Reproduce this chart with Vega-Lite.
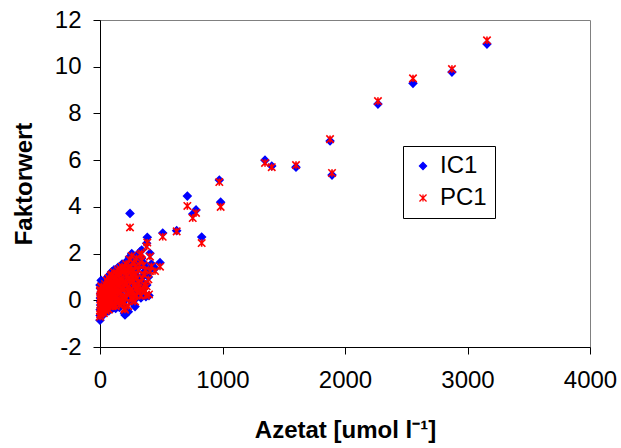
{
  "$schema": "https://vega.github.io/schema/vega-lite/v6.json",
  "width": 490,
  "height": 327,
  "autosize": {"type": "none"},
  "padding": {"left": 100, "top": 20, "right": 31, "bottom": 101},
  "background": "white",
  "config": {
    "font": "Liberation Sans",
    "view": {"stroke": "#808080", "strokeWidth": 1},
    "axis": {
      "grid": false,
      "domainColor": "black",
      "domainWidth": 1,
      "tickColor": "black",
      "tickSize": 7,
      "tickWidth": 1,
      "labelFontSize": 24,
      "labelColor": "black",
      "labelFont": "Liberation Sans",
      "titleFontSize": 24,
      "titleFontWeight": "bold",
      "titleColor": "black",
      "titleFont": "Liberation Sans"
    }
  },
  "data": {
    "values": [
      {"x": 0, "IC1": -0.85, "PC1": -0.70},
      {"x": 0, "IC1": 0.65, "PC1": 0.40},
      {"x": 1, "IC1": -0.65, "PC1": -0.60},
      {"x": 2, "IC1": -0.40, "PC1": -0.45},
      {"x": 3, "IC1": 0.10, "PC1": 0.05},
      {"x": 4, "IC1": 0.50, "PC1": 0.45},
      {"x": 5, "IC1": -0.20, "PC1": -0.25},
      {"x": 5, "IC1": 0.30, "PC1": 0.25},
      {"x": 6, "IC1": -0.05, "PC1": -0.10},
      {"x": 8, "IC1": -0.60, "PC1": -0.55},
      {"x": 9, "IC1": 0.20, "PC1": 0.15},
      {"x": 10, "IC1": 0.85, "PC1": 0.60},
      {"x": 11, "IC1": -0.30, "PC1": -0.35},
      {"x": 12, "IC1": 0.00, "PC1": -0.05},
      {"x": 14, "IC1": 0.70, "PC1": 0.55},
      {"x": 15, "IC1": -0.35, "PC1": -0.30},
      {"x": 16, "IC1": 0.10, "PC1": 0.05},
      {"x": 18, "IC1": 0.45, "PC1": 0.35},
      {"x": 19, "IC1": -0.50, "PC1": -0.50},
      {"x": 20, "IC1": -0.10, "PC1": -0.15},
      {"x": 22, "IC1": 0.20, "PC1": 0.15},
      {"x": 23, "IC1": 0.35, "PC1": 0.30},
      {"x": 25, "IC1": -0.50, "PC1": -0.45},
      {"x": 26, "IC1": 0.00, "PC1": -0.05},
      {"x": 28, "IC1": 0.60, "PC1": 0.50},
      {"x": 30, "IC1": 0.05, "PC1": 0.00},
      {"x": 31, "IC1": -0.60, "PC1": -0.55},
      {"x": 33, "IC1": -0.25, "PC1": -0.20},
      {"x": 34, "IC1": 0.55, "PC1": 0.45},
      {"x": 36, "IC1": 0.35, "PC1": 0.30},
      {"x": 38, "IC1": -0.10, "PC1": -0.10},
      {"x": 40, "IC1": 0.80, "PC1": 0.70},
      {"x": 42, "IC1": -0.40, "PC1": -0.35},
      {"x": 44, "IC1": 0.30, "PC1": 0.25},
      {"x": 45, "IC1": 0.15, "PC1": 0.10},
      {"x": 47, "IC1": -0.50, "PC1": -0.45},
      {"x": 48, "IC1": 0.50, "PC1": 0.45},
      {"x": 50, "IC1": -0.15, "PC1": -0.10},
      {"x": 52, "IC1": 0.60, "PC1": 0.50},
      {"x": 55, "IC1": 0.95, "PC1": 0.85},
      {"x": 57, "IC1": -0.40, "PC1": -0.35},
      {"x": 58, "IC1": 0.25, "PC1": 0.20},
      {"x": 60, "IC1": -0.30, "PC1": -0.25},
      {"x": 62, "IC1": 0.10, "PC1": 0.10},
      {"x": 64, "IC1": 0.65, "PC1": 0.55},
      {"x": 66, "IC1": 0.85, "PC1": 0.75},
      {"x": 68, "IC1": 0.00, "PC1": 0.05},
      {"x": 70, "IC1": 1.05, "PC1": 0.95},
      {"x": 72, "IC1": -0.45, "PC1": -0.40},
      {"x": 74, "IC1": 0.40, "PC1": 0.35},
      {"x": 76, "IC1": 0.55, "PC1": 0.50},
      {"x": 78, "IC1": -0.20, "PC1": -0.15},
      {"x": 80, "IC1": 0.00, "PC1": 0.00},
      {"x": 82, "IC1": 0.75, "PC1": 0.70},
      {"x": 84, "IC1": 0.90, "PC1": 0.85},
      {"x": 86, "IC1": 0.20, "PC1": 0.25},
      {"x": 88, "IC1": -0.30, "PC1": -0.25},
      {"x": 90, "IC1": 1.15, "PC1": 1.05},
      {"x": 92, "IC1": 0.35, "PC1": 0.35},
      {"x": 94, "IC1": -0.05, "PC1": 0.00},
      {"x": 95, "IC1": 1.22, "PC1": 1.10},
      {"x": 98, "IC1": 0.50, "PC1": 0.45},
      {"x": 100, "IC1": 0.70, "PC1": 0.65},
      {"x": 102, "IC1": -0.35, "PC1": -0.25},
      {"x": 104, "IC1": 0.15, "PC1": 0.10},
      {"x": 106, "IC1": 0.85, "PC1": 0.80},
      {"x": 108, "IC1": 1.05, "PC1": 1.00},
      {"x": 110, "IC1": 0.30, "PC1": 0.30},
      {"x": 112, "IC1": -0.25, "PC1": -0.20},
      {"x": 114, "IC1": 1.30, "PC1": 1.20},
      {"x": 116, "IC1": 0.45, "PC1": 0.45},
      {"x": 118, "IC1": 0.05, "PC1": 0.10},
      {"x": 120, "IC1": 0.95, "PC1": 0.90},
      {"x": 122, "IC1": 0.60, "PC1": 0.55},
      {"x": 124, "IC1": 0.25, "PC1": 0.25},
      {"x": 126, "IC1": -0.15, "PC1": -0.05},
      {"x": 128, "IC1": -0.35, "PC1": -0.25},
      {"x": 130, "IC1": 1.00, "PC1": 0.95},
      {"x": 133, "IC1": 0.55, "PC1": 0.55},
      {"x": 136, "IC1": 0.80, "PC1": 0.75},
      {"x": 138, "IC1": 1.15, "PC1": 1.10},
      {"x": 140, "IC1": 0.35, "PC1": 0.35},
      {"x": 142, "IC1": 0.00, "PC1": 0.05},
      {"x": 145, "IC1": 1.40, "PC1": 1.30},
      {"x": 148, "IC1": 0.90, "PC1": 0.85},
      {"x": 150, "IC1": -0.10, "PC1": 0.00},
      {"x": 152, "IC1": 0.45, "PC1": 0.40},
      {"x": 155, "IC1": 0.70, "PC1": 0.65},
      {"x": 158, "IC1": -0.30, "PC1": -0.20},
      {"x": 160, "IC1": 1.20, "PC1": 1.15},
      {"x": 163, "IC1": 1.44, "PC1": 1.35},
      {"x": 165, "IC1": 0.85, "PC1": 0.80},
      {"x": 168, "IC1": 0.25, "PC1": 0.30},
      {"x": 170, "IC1": 0.55, "PC1": 0.50},
      {"x": 172, "IC1": 0.95, "PC1": 0.90},
      {"x": 176, "IC1": -0.20, "PC1": -0.05},
      {"x": 178, "IC1": 1.30, "PC1": 1.25},
      {"x": 180, "IC1": 1.55, "PC1": 1.45},
      {"x": 183, "IC1": 0.15, "PC1": 0.15},
      {"x": 185, "IC1": 0.50, "PC1": 0.50},
      {"x": 188, "IC1": 0.85, "PC1": 0.80},
      {"x": 190, "IC1": 0.10, "PC1": 0.15},
      {"x": 193, "IC1": -0.20, "PC1": -0.10},
      {"x": 195, "IC1": 1.25, "PC1": 1.20},
      {"x": 198, "IC1": 0.55, "PC1": 0.55},
      {"x": 200, "IC1": -0.55, "PC1": -0.35},
      {"x": 204, "IC1": -0.63, "PC1": -0.40},
      {"x": 206, "IC1": 1.40, "PC1": 1.30},
      {"x": 208, "IC1": 0.80, "PC1": 0.75},
      {"x": 211, "IC1": 0.05, "PC1": 0.10},
      {"x": 213, "IC1": 1.65, "PC1": 1.55},
      {"x": 216, "IC1": 1.10, "PC1": 1.05},
      {"x": 218, "IC1": 0.73, "PC1": 0.70},
      {"x": 222, "IC1": 0.20, "PC1": 0.25},
      {"x": 224, "IC1": 0.60, "PC1": 0.55},
      {"x": 226, "IC1": 1.35, "PC1": 1.30},
      {"x": 229, "IC1": 1.50, "PC1": 1.40},
      {"x": 231, "IC1": -0.49, "PC1": -0.25},
      {"x": 234, "IC1": 0.35, "PC1": 0.35},
      {"x": 236, "IC1": 1.05, "PC1": 0.95},
      {"x": 240, "IC1": 1.85, "PC1": 1.75},
      {"x": 243, "IC1": 0.80, "PC1": 0.80},
      {"x": 245, "IC1": 3.72, "PC1": 3.12},
      {"x": 248, "IC1": 1.25, "PC1": 1.20},
      {"x": 250, "IC1": 0.45, "PC1": 0.45},
      {"x": 253, "IC1": 0.00, "PC1": 0.10},
      {"x": 255, "IC1": 1.50, "PC1": 1.45},
      {"x": 259, "IC1": 2.00, "PC1": 1.90},
      {"x": 262, "IC1": 1.10, "PC1": 1.05},
      {"x": 264, "IC1": -0.10, "PC1": 0.05},
      {"x": 268, "IC1": 0.35, "PC1": 0.35},
      {"x": 270, "IC1": 0.90, "PC1": 0.85},
      {"x": 274, "IC1": 1.30, "PC1": 1.25},
      {"x": 276, "IC1": 1.70, "PC1": 1.60},
      {"x": 280, "IC1": 0.15, "PC1": 0.20},
      {"x": 283, "IC1": 0.70, "PC1": 0.65},
      {"x": 286, "IC1": -0.27, "PC1": -0.05},
      {"x": 286, "IC1": 1.17, "PC1": 1.10},
      {"x": 290, "IC1": 1.50, "PC1": 1.45},
      {"x": 292, "IC1": 0.55, "PC1": 0.50},
      {"x": 296, "IC1": 0.10, "PC1": 0.20},
      {"x": 298, "IC1": 1.90, "PC1": 1.80},
      {"x": 302, "IC1": 1.00, "PC1": 0.95},
      {"x": 305, "IC1": 0.30, "PC1": 0.35},
      {"x": 310, "IC1": 0.55, "PC1": 0.55},
      {"x": 312, "IC1": 1.40, "PC1": 1.30},
      {"x": 318, "IC1": 0.80, "PC1": 0.75},
      {"x": 322, "IC1": 1.60, "PC1": 1.50},
      {"x": 327, "IC1": 2.08, "PC1": 1.95},
      {"x": 330, "IC1": 0.40, "PC1": 0.45},
      {"x": 334, "IC1": 0.10, "PC1": 0.20},
      {"x": 340, "IC1": 2.15, "PC1": 2.00},
      {"x": 340, "IC1": 1.80, "PC1": 1.70},
      {"x": 345, "IC1": 1.00, "PC1": 0.95},
      {"x": 350, "IC1": 0.50, "PC1": 0.45},
      {"x": 355, "IC1": 1.60, "PC1": 1.50},
      {"x": 358, "IC1": 1.20, "PC1": 1.10},
      {"x": 362, "IC1": 0.70, "PC1": 0.65},
      {"x": 367, "IC1": 0.23, "PC1": 0.37},
      {"x": 370, "IC1": 1.40, "PC1": 1.30},
      {"x": 375, "IC1": 0.15, "PC1": 0.20},
      {"x": 381, "IC1": 2.44, "PC1": 2.30},
      {"x": 381, "IC1": 0.65, "PC1": 0.60},
      {"x": 386, "IC1": 2.70, "PC1": 2.47},
      {"x": 395, "IC1": 1.00, "PC1": 0.90},
      {"x": 400, "IC1": 0.20, "PC1": 0.25},
      {"x": 408, "IC1": 2.01, "PC1": 1.87},
      {"x": 408, "IC1": 1.30, "PC1": 1.25},
      {"x": 420, "IC1": 1.55, "PC1": 1.45},
      {"x": 449, "IC1": 1.37, "PC1": 1.25},
      {"x": 490, "IC1": 1.61, "PC1": 1.44},
      {"x": 512, "IC1": 2.88, "PC1": 2.72},
      {"x": 626, "IC1": 2.98, "PC1": 2.95},
      {"x": 713, "IC1": 4.46, "PC1": 4.04},
      {"x": 757, "IC1": 3.69, "PC1": 3.52},
      {"x": 784, "IC1": 3.87, "PC1": 3.74},
      {"x": 830, "IC1": 2.71, "PC1": 2.45},
      {"x": 974, "IC1": 5.15, "PC1": 5.06},
      {"x": 985, "IC1": 4.20, "PC1": 4.00},
      {"x": 1347, "IC1": 6.00, "PC1": 5.88},
      {"x": 1402, "IC1": 5.75, "PC1": 5.70},
      {"x": 1600, "IC1": 5.70, "PC1": 5.79},
      {"x": 1878, "IC1": 6.82, "PC1": 6.90},
      {"x": 1894, "IC1": 5.36, "PC1": 5.45},
      {"x": 2269, "IC1": 8.40, "PC1": 8.53},
      {"x": 2555, "IC1": 9.29, "PC1": 9.50},
      {"x": 2873, "IC1": 9.77, "PC1": 9.90},
      {"x": 3159, "IC1": 10.97, "PC1": 11.13}
    ]
  },
  "transform": [{"fold": ["IC1", "PC1"], "as": ["series", "value"]}],
  "mark": {"type": "point", "filled": true, "strokeWidth": 1.6, "opacity": 1},
  "encoding": {
    "x": {
      "field": "x",
      "type": "quantitative",
      "scale": {"domain": [0, 4000], "nice": false},
      "axis": {"values": [0, 1000, 2000, 3000, 4000], "labelExpr": "'' + datum.value", "title": "Azetat [umol l⁻¹]", "labelPadding": 14, "titlePadding": 26, "labelFlush": false}
    },
    "y": {
      "field": "value",
      "type": "quantitative",
      "scale": {"domain": [-2, 12], "nice": false, "zero": false},
      "axis": {"values": [-2, 0, 2, 4, 6, 8, 10, 12], "labelExpr": "'' + datum.value", "title": "Faktorwert", "labelPadding": 12, "titlePadding": 18}
    },
    "shape": {
      "field": "series",
      "type": "nominal",
      "scale": {"domain": ["IC1", "PC1"], "range": ["diamond", "M-1,-1L1,1M-1,1L1,-1M0,-1L0,1"]},
      "legend": {"title": null, "orient": "none", "legendX": 303, "legendY": 126, "strokeColor": "black", "fillColor": "white", "padding": 8, "labelFontSize": 24, "labelColor": "black", "symbolSize": 50, "rowPadding": 8, "labelOffset": 5, "symbolStrokeWidth": 1.3}
    },
    "fill": {
      "field": "series",
      "type": "nominal",
      "scale": {"domain": ["IC1", "PC1"], "range": ["#0000FF", "#FF0000"]},
      "legend": {"title": null, "orient": "none", "legendX": 303, "legendY": 126, "strokeColor": "black", "fillColor": "white", "padding": 8, "labelFontSize": 24, "labelColor": "black", "symbolSize": 50, "rowPadding": 8, "labelOffset": 5, "symbolStrokeWidth": 1.3}
    },
    "stroke": {
      "field": "series",
      "type": "nominal",
      "scale": {"domain": ["IC1", "PC1"], "range": ["#0000FF", "#FF0000"]},
      "legend": {"title": null, "orient": "none", "legendX": 303, "legendY": 126, "strokeColor": "black", "fillColor": "white", "padding": 8, "labelFontSize": 24, "labelColor": "black", "symbolSize": 50, "rowPadding": 8, "labelOffset": 5, "symbolStrokeWidth": 1.3}
    },
    "size": {"value": 55},
    "order": {"field": "series", "type": "ordinal"}
  }
}
